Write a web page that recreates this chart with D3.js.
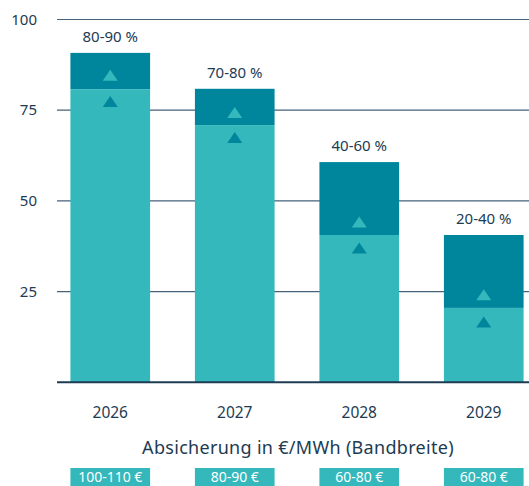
<!DOCTYPE html>
<html>
<head>
<meta charset="utf-8">
<script src="https://cdn.jsdelivr.net/npm/d3@7"></script>
<style>
  html, body { margin: 0; padding: 0; background: #fff; }
  svg { display: block; font-family: "Noto Sans", "Open Sans", sans-serif; }
</style>
</head>
<body>
<div id="chart"></div>
<script>
const years = ["2026", "2027", "2028", "2029"];
const lowerValues = [80.8, 70.9, 40.6, 20.5];
const upperValues = [90.8, 80.9, 60.7, 40.6];
const rangeLabels = ["80-90 %", "70-80 %", "40-60 %", "20-40 %"];
const markerHigh = [84.6, 74.4, 44.2, 24.1];
const markerLow = [77.4, 67.5, 37, 16.6];
const priceLabels = ["100-110 €", "80-90 €", "60-80 €", "60-80 €"];
const yTicks = [25, 50, 75, 100];

const width = 529, height = 486;
const light = "#34b8bc", dark = "#00869c", ink = "#1d3b52";

const svg = d3.select("#chart").append("svg")
  .attr("width", width)
  .attr("height", height);

const x = d3.scaleBand()
  .domain(years)
  .range([48, 546])
  .paddingInner(0.36)
  .paddingOuter(0.18);

const y = d3.scaleLinear()
  .domain([0, 100])
  .range([382.3, 19.5]);

// grid lines
svg.append("g")
  .selectAll("line")
  .data(yTicks)
  .join("line")
  .attr("x1", 57).attr("x2", width)
  .attr("y1", d => y(d)).attr("y2", d => y(d))
  .attr("stroke", "#45627a")
  .attr("stroke-width", 1.2);

svg.append("g")
  .selectAll("text")
  .data(yTicks)
  .join("text")
  .attr("x", 37)
  .attr("y", d => y(d))
  .attr("dy", "0.35em")
  .attr("text-anchor", "end")
  .attr("fill", ink)
  .style("font-size", "15px")
  .text(d => d);

// bars: upper (dark) part then lower (light) part
const bars = svg.append("g")
  .selectAll("g")
  .data(years)
  .join("g");

bars.append("rect")
  .attr("x", d => x(d))
  .attr("width", x.bandwidth())
  .attr("y", (d, i) => y(upperValues[i]))
  .attr("height", (d, i) => y(lowerValues[i]) - y(upperValues[i]))
  .attr("fill", dark);

bars.append("rect")
  .attr("x", d => x(d))
  .attr("width", x.bandwidth())
  .attr("y", (d, i) => y(lowerValues[i]))
  .attr("height", (d, i) => y(0) - y(lowerValues[i]))
  .attr("fill", light);

// small triangle marker, 15 wide and 11 high, centred on its value
const tri = "M-7.5,5.5L7.5,5.5L0,-5.5Z";

bars.append("path")
  .attr("d", tri)
  .attr("transform", (d, i) => `translate(${x(d) + x.bandwidth() / 2},${y(markerHigh[i])})`)
  .attr("fill", light);

bars.append("path")
  .attr("d", tri)
  .attr("transform", (d, i) => `translate(${x(d) + x.bandwidth() / 2},${y(markerLow[i])})`)
  .attr("fill", dark);

bars.append("text")
  .attr("x", d => x(d) + x.bandwidth() / 2)
  .attr("y", (d, i) => y(upperValues[i]) - 16)
  .attr("dy", "0.35em")
  .attr("text-anchor", "middle")
  .attr("fill", ink)
  .style("font-size", "15px")
  .text((d, i) => rangeLabels[i]);

// baseline
svg.append("line")
  .attr("x1", 57).attr("x2", width)
  .attr("y1", y(0)).attr("y2", y(0))
  .attr("stroke", "#1d3b52")
  .attr("stroke-width", 2);

// year labels
svg.append("g")
  .selectAll("text")
  .data(years)
  .join("text")
  .attr("x", d => x(d) + x.bandwidth() / 2)
  .attr("y", 413)
  .attr("dy", "0.35em")
  .attr("text-anchor", "middle")
  .attr("fill", ink)
  .style("font-size", "15.5px")
  .text(d => d);

svg.append("text")
  .attr("x", 298)
  .attr("y", 448)
  .attr("dy", "0.35em")
  .attr("text-anchor", "middle")
  .attr("fill", ink)
  .style("font-size", "18px")
  .style("letter-spacing", "0.3px")
  .text("Absicherung in €/MWh (Bandbreite)");

// price boxes
const boxes = svg.append("g")
  .selectAll("g")
  .data(years)
  .join("g");

boxes.append("rect")
  .attr("x", d => x(d))
  .attr("width", x.bandwidth())
  .attr("y", 468)
  .attr("height", 24)
  .attr("fill", light);

boxes.append("text")
  .attr("x", d => x(d) + x.bandwidth() / 2)
  .attr("y", 481.5)
  .attr("text-anchor", "middle")
  .attr("fill", "#fff")
  .style("font-size", "14px")
  .text((d, i) => priceLabels[i]);
</script>
</body>
</html>
